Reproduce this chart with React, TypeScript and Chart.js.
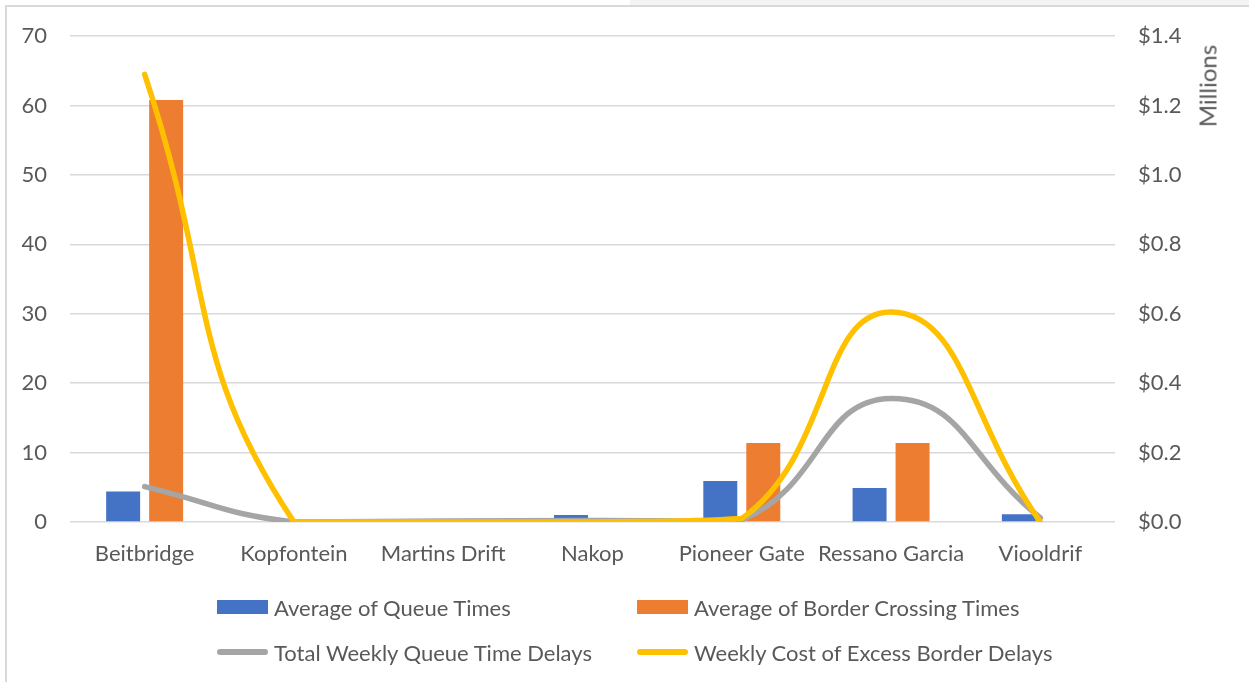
import React, { useEffect, useRef } from "react";
import { Chart, registerables } from "chart.js";

Chart.register(...registerables);

const categories = [
  "Beitbridge",
  "Kopfontein",
  "Martins Drift",
  "Nakop",
  "Pioneer Gate",
  "Ressano Garcia",
  "Viooldrif",
];
const avgQueueTimes = [4.4, 0.1, 0, 1.0, 5.9, 4.9, 1.1];
const avgBorderCrossingTimes = [60.8, 0, 0, 0, 11.4, 11.4, 0];
const totalWeeklyQueueDelays = [5.1, 0, 0.15, 0.2, 0.3, 17.8, 0.6];
const weeklyCostMillions = [1.29, 0, 0, 0, 0.01, 0.605, 0];

const seriesNames = [
  "Average of Queue Times",
  "Average of Border Crossing Times",
  "Total Weekly Queue Time Delays",
  "Weekly Cost of Excess Border Delays",
];
const seriesColors = ["#4472C4", "#ED7D31", "#A5A5A5", "#FFC000"];

const leftMax = 70;
const leftStep = 10;
const rightMax = 1.4;
const rightStep = 0.2;
const rightAxisTitle = "Millions";

const FONT = "Lato, 'Open Sans', sans-serif";
const TEXT = "#595959";

export default function App() {
  const ref = useRef<HTMLCanvasElement | null>(null);

  useEffect(() => {
    if (!ref.current) return;
    const chart = new Chart(ref.current, {
      type: "bar",
      data: {
        labels: categories,
        datasets: [
          {
            type: "line",
            label: seriesNames[3],
            data: weeklyCostMillions,
            yAxisID: "y1",
            borderColor: seriesColors[3],
            backgroundColor: seriesColors[3],
            borderWidth: 5.5,
            borderCapStyle: "round",
            borderJoinStyle: "round",
            tension: 0.48,
            pointRadius: 0,
            fill: false,
            order: 0,
          } as any,
          {
            type: "line",
            label: seriesNames[2],
            data: totalWeeklyQueueDelays,
            yAxisID: "y",
            borderColor: seriesColors[2],
            backgroundColor: seriesColors[2],
            borderWidth: 5.5,
            borderCapStyle: "round",
            borderJoinStyle: "round",
            tension: 0.48,
            pointRadius: 0,
            fill: false,
            order: 1,
          } as any,
          {
            type: "bar",
            label: seriesNames[0],
            data: avgQueueTimes,
            yAxisID: "y",
            backgroundColor: seriesColors[0],
            categoryPercentage: 0.576,
            barPercentage: 0.79,
            order: 2,
          },
          {
            type: "bar",
            label: seriesNames[1],
            data: avgBorderCrossingTimes,
            yAxisID: "y",
            backgroundColor: seriesColors[1],
            categoryPercentage: 0.576,
            barPercentage: 0.79,
            order: 3,
          },
        ],
      },
      options: {
        responsive: false,
        animation: false,
        devicePixelRatio: 1,
        layout: { padding: { top: 35, left: 0, right: 0, bottom: 0 } },
        plugins: {
          legend: { display: false },
          tooltip: { enabled: false },
        },
        scales: {
          x: {
            grid: { display: false, drawTicks: false },
            border: { display: false },
            ticks: {
              color: TEXT,
              font: { family: FONT, size: 22 },
              padding: 19,
              maxRotation: 0,
              autoSkip: false,
            },
            afterFit: (s: any) => {
              s.height = 160;
            },
          },
          y: {
            position: "left",
            min: 0,
            max: leftMax,
            ticks: {
              stepSize: leftStep,
              color: TEXT,
              font: { family: FONT, size: 22 },
              padding: 23,
            },
            grid: { color: "#D9D9D9", lineWidth: 1.5, drawTicks: false },
            border: { display: false },
            afterFit: (s: any) => {
              s.width = 70;
            },
          },
          y1: {
            position: "right",
            min: 0,
            max: rightMax,
            ticks: {
              stepSize: rightStep,
              color: TEXT,
              font: { family: FONT, size: 22 },
              padding: 23,
              callback: (v: any) => "$" + Number(v).toFixed(1),
            },
            grid: { display: false, drawTicks: false },
            border: { display: false },
            afterFit: (s: any) => {
              s.width = 134;
            },
          },
        },
      },
    });
    return () => chart.destroy();
  }, []);

  const legendRow = (i: number, left: number, top: number, isLine: boolean) => (
    <div
      key={i}
      style={{
        position: "absolute",
        left,
        top: top - 15,
        height: 30,
        display: "flex",
        alignItems: "center",
        fontFamily: FONT,
        fontSize: 22,
        color: TEXT,
        whiteSpace: "nowrap",
      }}
    >
      <span
        style={{
          display: "inline-block",
          width: 51,
          height: isLine ? 6 : 14,
          borderRadius: isLine ? 3 : 0,
          background: seriesColors[i],
          marginRight: 6,
        }}
      />
      <span>{seriesNames[i]}</span>
    </div>
  );

  return (
    <div
      style={{
        position: "fixed",
        left: 0,
        top: 0,
        width: 1249,
        height: 682,
        overflow: "hidden",
        background: "#fff",
      }}
    >
      <div
        style={{
          position: "absolute",
          left: 630,
          top: 0,
          width: 700,
          height: 6,
          background: "#F4F4F4",
        }}
      />
      <div
        style={{
          position: "absolute",
          left: 5,
          top: 5,
          width: 1300,
          height: 720,
          border: "2px solid #D9D9D9",
          boxSizing: "border-box",
        }}
      />
      <canvas
        ref={ref}
        width={1249}
        height={682}
        style={{ position: "absolute", left: 0, top: 0, width: 1249, height: 682 }}
      />
      <div
        style={{
          position: "absolute",
          left: 1207,
          top: 86,
          transform: "translate(-50%, -50%) rotate(-90deg)",
          fontFamily: FONT,
          fontSize: 24,
          color: TEXT,
          whiteSpace: "nowrap",
        }}
      >
        {rightAxisTitle}
      </div>
      {legendRow(0, 217, 607, false)}
      {legendRow(1, 637, 607, false)}
      {legendRow(2, 217, 652, true)}
      {legendRow(3, 637, 652, true)}
    </div>
  );
}
